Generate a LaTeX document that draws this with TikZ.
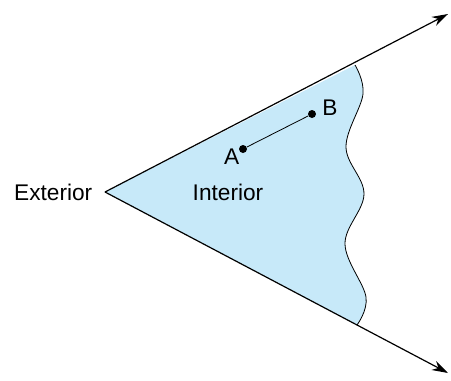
\documentclass[tikz,border=0pt]{standalone}
\usepackage{fontspec}
\setmainfont{Liberation Sans}
\usetikzlibrary{arrows.meta,positioning}
\definecolor{interiorblue}{RGB}{199,233,249}

\begin{document}
\begin{tikzpicture}[x=0.75pt, y=-0.75pt, >={Stealth[length=12pt,width=7.5pt]}, every node/.style={font=\fontsize{17}{20}\selectfont}, dot/.style={circle, fill, inner sep=0pt, minimum size=6pt}, ray/.style={line width=0.9pt, ->}]
\useasboundingbox (0,0) rectangle (451,380);
\coordinate (O) at (105,192);
\coordinate (R1) at (448,14);
\coordinate (R2) at (448,373);
% interior region with wavy edge
\fill[interiorblue] (O) -- plot[smooth, tension=0.6] coordinates {(355,65) (363,94) (346,147) (364,194) (345,244) (366,297) (357,325)} -- cycle;
\draw[line width=0.6pt] plot[smooth, tension=0.6] coordinates {(355,65) (363,94) (346,147) (364,194) (345,244) (366,297) (357,325)};
\draw[ray] (O) -- (R1); \draw[ray] (O) -- (R2);
\node[dot] (a) at (243,149) {};
\node[dot] (b) at (312,114) {};
\draw[line width=0.6pt] (a) -- (b);
\node[below left=-6pt and -3pt of a] (alab) {A};
\node[above right=-7pt and 2pt of b] (blab) {B};
\node (int) at (228,192) {Interior};
\node[left=6pt of O] (ext) {Exterior};
\end{tikzpicture}
\end{document}
